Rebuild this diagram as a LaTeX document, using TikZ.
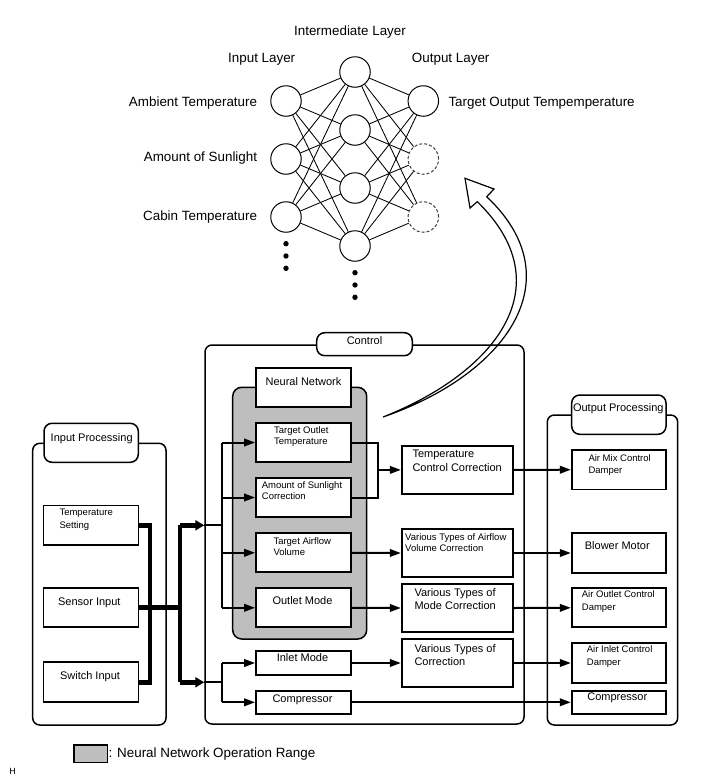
\documentclass[tikz,border=0pt]{standalone}
\usepackage{fontspec}
\setmainfont{Liberation Sans}
\usetikzlibrary{arrows.meta}
\definecolor{nngray}{RGB}{190,190,190}
\begin{document}
\begin{tikzpicture}[x=1pt,y=-1pt,
  bx/.style={draw, line width=1.7pt, fill=white, inner sep=0pt, rectangle},
  grp/.style={draw, line width=1.5pt, rounded corners=7pt, inner sep=0pt, rectangle},
  ttl/.style={draw, line width=1.5pt, fill=white, rounded corners=8pt, inner sep=0pt, rectangle},
  neuron/.style={draw, circle, line width=1pt, minimum size=30.5pt, inner sep=0pt, fill=white},
  ghost/.style={neuron, dash pattern=on 3pt off 2pt, draw=black!75},
  syn/.style={line width=0.85pt},
  conn/.style={line width=2pt},
  arr/.style={conn, -{Triangle[length=11pt,width=7.5pt]}},
  bus/.style={line width=4.5pt, line join=miter},
  busarr/.style={bus, -{Triangle[length=9pt,width=10pt]}},
  fL/.style={font=\fontsize{13.4}{16}\selectfont},
  fM/.style={font=\fontsize{11}{13.4}\selectfont},
  fS/.style={font=\fontsize{9.5}{11.4}\selectfont},
  fSo/.style={font=\fontsize{9.5}{12.3}\selectfont},
  tl/.style={anchor=north west, inner sep=0pt, align=left, yshift=-1pt},
  tc/.style={anchor=mid, inner sep=0pt, yshift=-1.5pt},
  tr/.style={anchor=mid east, inner sep=0pt, yshift=-1.5pt},
  tw/.style={anchor=mid west, inner sep=0pt, yshift=-1.5pt},
]
\useasboundingbox (0,0) rectangle (713,782);

% ---------------- neural network ----------------
\node[neuron] (i1) at (286,101) {};
\node[neuron] (i2) at (286,159) {};
\node[neuron] (i3) at (286,217) {};
\node[neuron] (h1) at (355,72) {};
\node[neuron] (h2) at (355,130) {};
\node[neuron] (h3) at (355,188) {};
\node[neuron] (h4) at (355,246) {};
\node[neuron] (o1) at (423.3,101) {};
\node[ghost] (o2) at (423.3,159) {};
\node[ghost] (o3) at (423.3,217) {};
\foreach \a in {i1,i2,i3}{\foreach \b in {h1,h2,h3,h4}{\draw[syn] (\a) -- (\b);}}
\foreach \a in {h1,h2,h3,h4}{\foreach \b in {o1,o2,o3}{\draw[syn] (\a) -- (\b);}}
\foreach \yy in {243.7,256,268.3}{\fill (286,\yy) circle (2.7pt);}
\foreach \yy in {272.7,285,297.3}{\fill (355,\yy) circle (2.7pt);}

\node[fL,tc] (tIL) at (350,31.7) {Intermediate Layer};
\node[fL,tc] (tInL) at (261.7,58.7) {Input Layer};
\node[fL,tc] (tOL) at (450.7,58.7) {Output Layer};
\node[fL,tr] (tA) at (257.3,102) {Ambient Temperature};
\node[fL,tr] (tS) at (257.3,157) {Amount of Sunlight};
\node[fL,tr] (tC) at (257.3,216.5) {Cabin Temperature};
\node[fL,tw] (tT) at (448.3,102) {Target Output Tempemperature};

% ---------------- big hollow arrow ----------------
\draw[line width=1.2pt, fill=white, line join=miter]
  (383,417) .. controls (505,375) and (575,280) .. (486.7,196.7)
  -- (494,189) -- (465,178.3) -- (470,208) -- (477.3,201.7)
  .. controls (563,285) and (497,372) .. (383,417) -- cycle;

% ---------------- control ----------------
\node[grp, minimum width=319, minimum height=379] (ctrl) at (364.5,534.5) {};
\node[ttl, minimum width=95.6, minimum height=23] (ctrlT) at (364.5,344.2) {};
\node[fM,tc] (ctrlTx) at (364.5,340.5) {Control};

\node[draw, fill=nngray, line width=1.5pt, rounded corners=9pt, inner sep=0pt,
      minimum width=134, minimum height=251.7] (gray) at (299.7,513.15) {};
\node[bx, minimum width=95, minimum height=39.6] (nn) at (303.5,387.5) {};
\node[fM,tc] (nnx) at (303.5,381.7) {Neural Network};

\node[bx, minimum width=95, minimum height=39.6] (tot) at (303.5,442.5) {};
\node[fS,tl] (totx) at (274,425.2) {Target Outlet\\Temperature};
\node[bx, minimum width=95, minimum height=39.6] (asc) at (303.5,497.5) {};
\node[fS,tl] (ascx) at (261.7,480.2) {Amount of Sunlight\\Correction};
\node[bx, minimum width=95, minimum height=39] (tav) at (303.5,552.8) {};
\node[fS,tl] (tavx) at (273.3,536.5) {Target Airflow\\Volume};
\node[bx, minimum width=95, minimum height=39] (om) at (303.5,607.8) {};
\node[fM,tc] (omx) at (302.5,600) {Outlet Mode};
\node[bx, minimum width=95, minimum height=24] (im) at (303.5,663) {};
\node[fM,tc] (imx) at (302.5,657.7) {Inlet Mode};
\node[bx, minimum width=95, minimum height=23.3] (cp) at (303.5,702.3) {};
\node[fM,tc] (cpx) at (302.5,698.3) {Compressor};

\node[bx, minimum width=111, minimum height=47.7] (tcc) at (457.2,469.9) {};
\node[fM,tl] (tccx) at (412.3,449.2) {Temperature\\Control Correction};
\node[bx, minimum width=111, minimum height=47.4] (avc) at (457.2,553) {};
\node[fS,tl] (avcx) at (405,532.2) {Various Types of Airflow\\Volume Correction};
\node[bx, minimum width=111, minimum height=47.4] (mc) at (457.2,608) {};
\node[fM,tl] (mcx) at (414.3,586.9) {Various Types of\\Mode Correction};
\node[bx, minimum width=111, minimum height=47.4] (vc) at (457.2,663) {};
\node[fM,tl] (vcx) at (414.3,643.2) {Various Types of\\Correction};

% ---------------- output processing ----------------
\node[grp, minimum width=130.4, minimum height=310] (outp) at (612.5,570) {};
\node[ttl, minimum width=94.3, minimum height=39.3] (outT) at (618.85,414.65) {};
\node[fM,tc] (outTx) at (618.3,407.3) {Output Processing};
\node[bx, minimum width=94.3, minimum height=39.3] (amix) at (618.85,469.7) {};
\node[fSo,tl] (amixx) at (588.3,453.2) {Air Mix Control\\Damper};
\node[bx, minimum width=94.3, minimum height=39.4] (blw) at (618.85,553) {};
\node[fM,tc] (blwx) at (617.3,545.7) {Blower Motor};
\node[bx, minimum width=94.3, minimum height=39] (aod) at (618.85,607.8) {};
\node[fSo,tl] (aodx) at (581.7,589.8) {Air Outlet Control\\Damper};
\node[bx, minimum width=94.3, minimum height=39.4] (aid) at (618.85,663) {};
\node[fSo,tl] (aidx) at (586.7,644.8) {Air Inlet Control\\Damper};
\node[bx, minimum width=94.3, minimum height=23.3] (ocp) at (618.85,702.3) {};
\node[fM,tc] (ocpx) at (617.3,696.7) {Compressor};

% ---------------- input processing ----------------
\node[grp, minimum width=133.3, minimum height=281.7] (inp) at (99.35,584.15) {};
\node[ttl, minimum width=94.3, minimum height=39] (inT) at (91.15,442.8) {};
\node[fM,tc] (inTx) at (91.7,437.3) {Input Processing};
\node[bx, minimum width=95, minimum height=39.4] (ts) at (90.9,525.3) {};
\node[fSo,tl] (tsx) at (59.3,508.2) {Temperature\\Setting};
\node[bx, minimum width=95, minimum height=39.6] (sen) at (90.9,607.5) {};
\node[fM,tc] (senx) at (89.3,601.7) {Sensor Input};
\node[bx, minimum width=95, minimum height=40] (sw) at (90.9,682.3) {};
\node[fM,tc] (swx) at (90,675.7) {Switch Input};

% ---------------- connectors ----------------
\coordinate (j1) at (150,600);
\coordinate (j2) at (180,600);
\coordinate (bx) at (221.7,600);
\coordinate (bk) at (378.3,469.9);

\draw[bus] (ts.east) -- (ts.east -| j1) -- (sw.east -| j1) -- (sw.east);
\draw[bus] (sen.east) -- (sen.east -| j2);
\draw[bus] (ts.east -| j2) -- (sw.east -| j2);
\draw[busarr] (ts.east -| j2) -- (ts.east -| ctrl.west);
\draw[busarr] (sw.east -| j2) -- (sw.east -| ctrl.west);

\draw[conn] (ts.east -| ctrl.west) -- (ts.east -| bx);
\draw[conn] (tot.west -| bx) -- (om.west -| bx);
\draw[arr] (tot.west -| bx) -- (tot.west);
\draw[arr] (asc.west -| bx) -- (asc.west);
\draw[arr] (tav.west -| bx) -- (tav.west);
\draw[arr] (om.west -| bx) -- (om.west);

\draw[conn] (sw.east -| ctrl.west) -- (sw.east -| bx);
\draw[conn] (im.west -| bx) -- (cp.west -| bx);
\draw[arr] (im.west -| bx) -- (im.west);
\draw[arr] (cp.west -| bx) -- (cp.west);

\draw[conn] (tot.east) -- (tot.east -| bk) -- (asc.east -| bk) -- (asc.east);
\draw[arr] (bk) -- (tcc.west);
\draw[arr] (tav.east) -- (avc.west);
\draw[arr] (om.east) -- (mc.west);
\draw[arr] (im.east) -- (vc.west);

\draw[arr] (tcc.east) -- (amix.west);
\draw[arr] (avc.east) -- (blw.west);
\draw[arr] (mc.east) -- (aod.west);
\draw[arr] (vc.east) -- (aid.west);
\draw[arr] (cp.east) -- (ocp.west);

% ---------------- legend ----------------
\node[draw, fill=nngray, line width=1.5pt, inner sep=0pt, minimum width=33.3, minimum height=17.3] (leg) at (90.65,753.65) {};
\node[fL,tw] (legx) at (108.3,753) {: Neural Network Operation Range};
\node[font=\fontsize{9}{10}\selectfont,tc] (hh) at (12.5,770) {H};
\end{tikzpicture}
\end{document}
